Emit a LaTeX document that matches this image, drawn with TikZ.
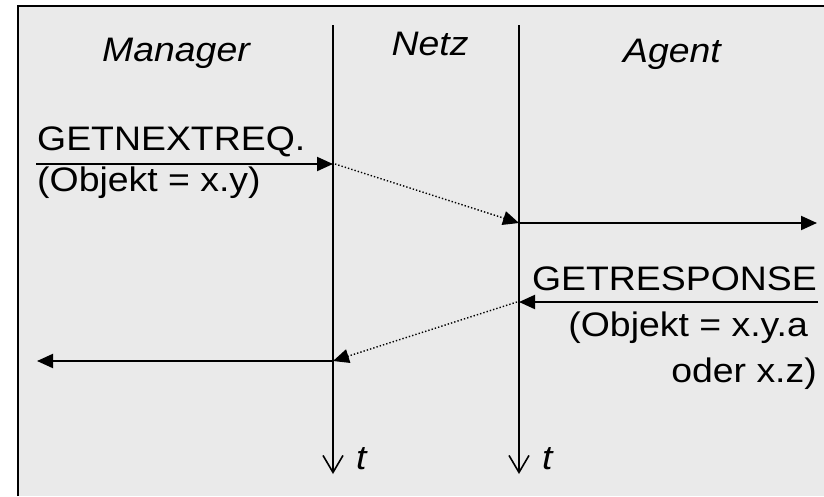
\documentclass[tikz,border=0pt]{standalone}
\usepackage{fontspec}
\setmainfont{Liberation Sans}[FakeStretch=1.1]
\usetikzlibrary{arrows.meta}
\definecolor{bg}{RGB}{234,234,234}
\begin{document}
\begin{tikzpicture}[x=1pt,y=-1pt,
  lbl/.style={inner sep=0pt, font=\fontsize{34}{40}\selectfont},
  hdr/.style={inner sep=0pt, font=\fontsize{34}{40}\selectfont\itshape},
  msg/.style={line width=2pt, -{Triangle[length=16pt,width=14pt]}},
  dotmsg/.style={line width=1.4pt, dash pattern=on 1.4pt off 2pt, -{Triangle[length=16pt,width=14pt]}},
  life/.style={line width=2pt, -{Straight Barb[length=17pt,width=20pt,line width=1.6pt]}}]
\useasboundingbox (0,0) rectangle (824,496);
\fill[white] (0,0) rectangle (824,496);
\fill[bg] (18,6) rectangle (824,496);
\draw[line width=2pt] (18,496) -- (18,6) -- (824,6);

% lifelines
\coordinate (mtop) at (333,25);
\coordinate (mbot) at (333,474);
\coordinate (ntop) at (519,25);
\coordinate (nbot) at (519,474);
\draw[life] (mtop) -- (mbot);
\draw[life] (ntop) -- (nbot);

% headers
\node[hdr, anchor=base] (hm) at (176,61) {Manager};
\node[hdr, anchor=base] (hn) at (430,55) {Netz};
\node[hdr, anchor=base] (ha) at (672,62) {Agent};
\node[hdr, anchor=base west] (t1) at (356,469) {t};
\node[hdr, anchor=base west] (t2) at (542,469) {t};

% message points
\coordinate (s1) at (36,164);
\coordinate (m1) at (333,164);
\coordinate (n1) at (519,223);
\coordinate (e1) at (817,223);
\coordinate (e2) at (818,302);
\coordinate (n2) at (519,302);
\coordinate (m2) at (333,361);
\coordinate (s2) at (37,361);

\draw[msg] (s1) -- (m1);
\draw[dotmsg] ([xshift=2pt]m1) -- (n1);
\draw[msg] (n1) -- (e1);
\draw[msg] (e2) -- (n2);
\draw[dotmsg] ([xshift=-2pt]n2) -- (m2);
\draw[msg] (m2) -- (s2);

% labels
\node[lbl, anchor=base west] (l1) at (37,150) {GETNEXTREQ.};
\node[lbl, anchor=base west] (l2) at (37,191) {(Objekt = x.y)};
\node[lbl, anchor=base east] (r1) at (817,290) {GETRESPONSE};
\node[lbl, anchor=base east] (r2) at (808,336) {(Objekt = x.y.a};
\node[lbl, anchor=base east] (r3) at (817,382) {oder x.z)};
\end{tikzpicture}
\end{document}
